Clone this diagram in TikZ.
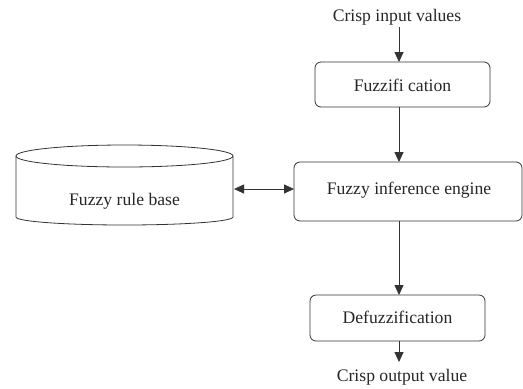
\documentclass[tikz,border=0pt]{standalone}
\usepackage{fontspec}
\setmainfont{Liberation Serif}
\usetikzlibrary{arrows.meta}
\begin{document}
\begin{tikzpicture}[x=1bp,y=-1bp,
  line/.style={draw=black!80, line width=0.8bp},
  arr/.style={line, -{Triangle[length=10bp,width=9bp]}},
  darr/.style={line, {Triangle[length=10bp,width=9bp]}-{Triangle[length=10bp,width=9bp]}},
  procbox/.style={line, rounded corners=6bp, inner sep=0pt},
  lbl/.style={font=\fontsize{17.7}{20}\selectfont, text=black!85, inner sep=0pt}]
\useasboundingbox (0,0) rectangle (523,388);
% boxes
\draw[procbox] (315,62) rectangle (490,107);
\node[lbl] (fuz) at (402.5,85) {Fuzzifi cation};
\coordinate (fuzT) at (399,62);
\coordinate (fuzB) at (399,107);
\draw[procbox] (294,162) rectangle (522,221);
\node[lbl] (eng) at (409,190) {Fuzzy inference engine};
\coordinate (engT) at (399,162);
\coordinate (engB) at (399,221);
\coordinate (engL) at (294,189);
\draw[procbox] (310,295) rectangle (485,341);
\node[lbl] (def) at (397.5,317) {Defuzzification};
\coordinate (defT) at (399,295);
\coordinate (defB) at (399,341);
% cylinder
\draw[line] (124.5,156) ellipse [x radius=108.5, y radius=11];
\draw[line] (16,156) -- (16,217) arc[start angle=180, end angle=0, x radius=108.5, y radius=8] -- (233,156);
\node[lbl] (rb) at (124.5,201) {Fuzzy rule base};
\coordinate (rbR) at (234,189);
% texts
\node[lbl] (in) at (397,17) {Crisp input values};
\coordinate (inB) at (399,27);
\node[lbl] (out) at (402,377) {Crisp output value};
\coordinate (outT) at (399,362);
% connectors
\draw[arr] (inB) -- (fuzT);
\draw[arr] (fuzB) -- (engT);
\draw[arr] (engB) -- (defT);
\draw[arr] (defB) -- (outT);
\draw[darr] (rbR) -- (engL);
\end{tikzpicture}
\end{document}
